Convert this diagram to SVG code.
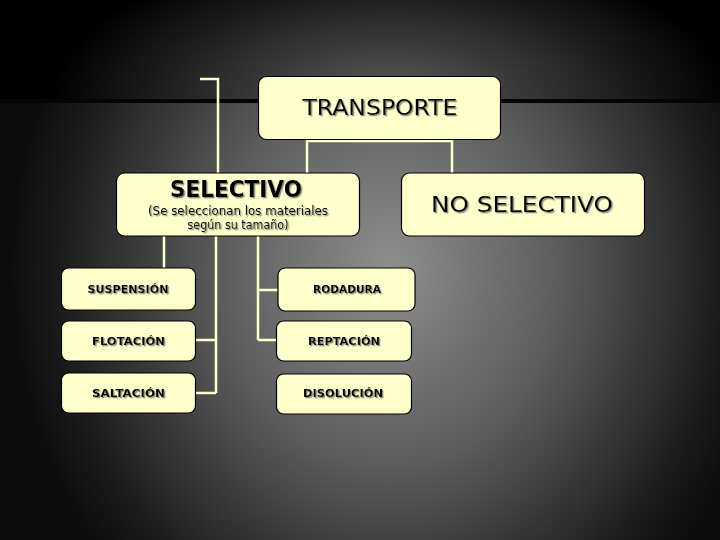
<svg xmlns="http://www.w3.org/2000/svg" width="720" height="540" viewBox="0 0 720 540">
<defs>
<radialGradient id="gTop" gradientUnits="userSpaceOnUse" cx="390" cy="100" r="340" gradientTransform="translate(390 100) scale(1 0.45) translate(-390 -100)">
<stop offset="0" stop-color="#5e5e5e"/>
<stop offset="0.5" stop-color="#2e2e2e"/>
<stop offset="1" stop-color="#000"/>
</radialGradient>
<radialGradient id="gBot" gradientUnits="userSpaceOnUse" cx="390" cy="270" r="380" gradientTransform="translate(390 270) scale(1 1.15) translate(-390 -270)">
<stop offset="0" stop-color="#8e8e8e"/>
<stop offset="0.45" stop-color="#5c5c5c"/>
<stop offset="0.85" stop-color="#1e1e1e"/>
<stop offset="1" stop-color="#0c0c0c"/>
</radialGradient>
<filter id="sh" x="-10%" y="-20%" width="120%" height="150%">
<feDropShadow dx="1.3" dy="1.3" stdDeviation="0" flood-color="#8a8a7a" flood-opacity="1"/>
</filter>
</defs>
<style>
.box{fill:#ffffcc;stroke:#000;stroke-width:1.2}
.t{font-family:"DejaVu Sans","Liberation Sans",sans-serif;fill:#000;text-anchor:middle;filter:url(#sh)}
.big{font-size:22px}
.sel{font-size:23px;font-weight:bold}
.sub{font-size:12px}
.sm{font-size:10.5px;font-weight:bold}
.c{fill:none;stroke:#ffffcc;stroke-width:2.5}
</style>
<rect x="0" y="0" width="720" height="100" fill="url(#gTop)"/>
<rect x="0" y="100" width="720" height="440" fill="url(#gBot)"/>
<rect x="0" y="99" width="720" height="4" fill="#050505"/>
<g id="connectors">
<path class="c" d="M200,79 H218 V173"/>
<path class="c" d="M307,173 V141 H452 V173"/>
<path class="c" d="M164,236 V268"/>
<path class="c" d="M216,236 V393 M196,340 H216 M196,393 H216"/>
<path class="c" d="M258,236 V340 M258,290 H278 M258,340 H276"/>
</g>
<g id="transporte">
<rect class="box" x="258.5" y="76.5" width="242" height="63" rx="8"/>
<text class="t big" x="380" y="115" textLength="155" lengthAdjust="spacingAndGlyphs">TRANSPORTE</text>
</g>
<g id="selectivo">
<rect class="box" x="116.5" y="173" width="243" height="63" rx="8"/>
<text class="t sel" x="236" y="197" textLength="132" lengthAdjust="spacingAndGlyphs">SELECTIVO</text>
<text class="t sub" x="238" y="215" textLength="180" lengthAdjust="spacingAndGlyphs">(Se seleccionan los materiales</text>
<text class="t sub" x="238" y="229" textLength="101" lengthAdjust="spacingAndGlyphs">según su tamaño)</text>
</g>
<g id="no-selectivo">
<rect class="box" x="401.5" y="173" width="243" height="63" rx="8"/>
<text class="t big" x="522" y="212" textLength="182" lengthAdjust="spacingAndGlyphs">NO SELECTIVO</text>
</g>
<g id="suspension">
<rect class="box" x="61.5" y="268" width="134" height="42" rx="7"/>
<text class="t sm" x="128" y="293" textLength="81" lengthAdjust="spacingAndGlyphs">SUSPENSIÓN</text>
</g>
<g id="flotacion">
<rect class="box" x="61.5" y="321" width="134" height="40" rx="7"/>
<text class="t sm" x="128.5" y="345" textLength="73" lengthAdjust="spacingAndGlyphs">FLOTACIÓN</text>
</g>
<g id="saltacion">
<rect class="box" x="61.5" y="373" width="134" height="40" rx="7"/>
<text class="t sm" x="128.5" y="397" textLength="73" lengthAdjust="spacingAndGlyphs">SALTACIÓN</text>
</g>
<g id="rodadura">
<rect class="box" x="278" y="268" width="137" height="43" rx="7" stroke="none"/>
<text class="t sm" x="347" y="293" textLength="68" lengthAdjust="spacingAndGlyphs">RODADURA</text>
</g>
<g id="reptacion">
<rect class="box" x="276.5" y="321" width="135" height="40" rx="7"/>
<text class="t sm" x="344" y="345" textLength="72" lengthAdjust="spacingAndGlyphs">REPTACIÓN</text>
</g>
<g id="disolucion">
<rect class="box" x="276.5" y="374" width="135" height="40" rx="7"/>
<text class="t sm" x="343" y="397" textLength="80" lengthAdjust="spacingAndGlyphs">DISOLUCIÓN</text>
</g>
</svg>
